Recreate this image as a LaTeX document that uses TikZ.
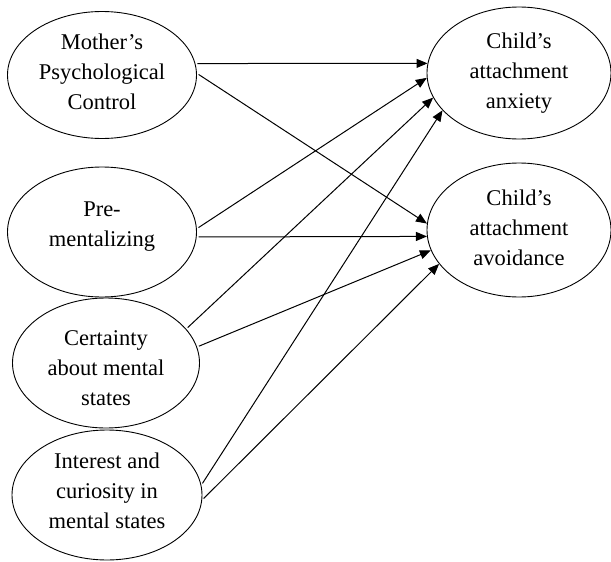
\documentclass[tikz,border=0pt]{standalone}
\usepackage{fontspec}
\setmainfont{Liberation Serif}
\usetikzlibrary{shapes.geometric,arrows.meta}
\tikzset{
  ell/.style={draw, ellipse, line width=0.9pt, inner sep=0pt},
  txt/.style={align=center, inner sep=0pt, font=\fontsize{22.5}{30}\selectfont},
  conn/.style={line width=1pt, -{Triangle[length=11pt,width=9pt]}, shorten <=2pt}
}
\begin{document}
\begin{tikzpicture}[x=1pt,y=-1pt]
\useasboundingbox (0,0) rectangle (611,562);
\node[ell, minimum width=189pt, minimum height=127pt] (m) at (102,75) {};
\node[ell, minimum width=189pt, minimum height=130pt] (p) at (102,232) {};
\node[ell, minimum width=187pt, minimum height=130pt] (c) at (106,363) {};
\node[ell, minimum width=190pt, minimum height=130pt] (i) at (107,495) {};
\node[ell, minimum width=184pt, minimum height=132pt] (a) at (519,73) {};
\node[ell, minimum width=184pt, minimum height=134pt] (v) at (519,230) {};
\node[txt, yshift=3pt] (mt) at (m) {Mother’s\\Psychological\\Control};
\node[txt, yshift=5.5pt] (pt) at (p) {Pre-\\mentalizing};
\node[txt, yshift=-5.5pt] (ct) at (c) {Certainty\\about mental\\states};
\node[txt, yshift=4pt] (it) at (i) {Interest and\\curiosity in\\mental states};
\node[txt] (at) at (a) {Child’s\\attachment\\anxiety};
\node[txt, yshift=2pt] (vt) at (v) {Child’s\\attachment\\avoidance};
\draw[conn] (m.7) -- (a.174);
\draw[conn] (m.1) -- (v.176);
\draw[conn] (p.2) -- (a.183);
\draw[conn] (p.-3) -- (v.184);
\draw[conn] (c.23) -- (a.196);
\draw[conn] (c.10) -- (v.193);
\draw[conn] (i.6) -- (a.206);
\draw[conn] (i.-3) -- (v.203);
\end{tikzpicture}
\end{document}
